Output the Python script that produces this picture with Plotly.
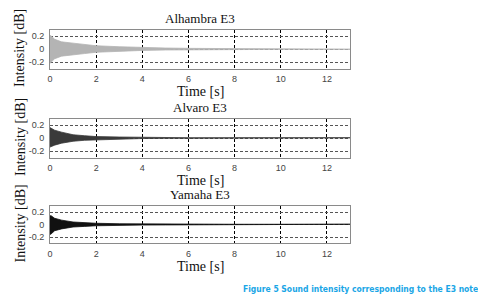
import plotly.graph_objects as go

# ---- data (envelopes) ----
t_env = [0, 0.05, 0.2, 0.5, 1.0, 1.5, 2.0, 3.0, 4.0, 5.0, 6.0, 8.0, 10.0, 13.0]

alhambra_upper = [0.21, 0.20, 0.15, 0.11, 0.09, 0.07, 0.05, 0.035, 0.022, 0.015, 0.01, 0.006, 0.005, 0.004]
alhambra_lower = [-0.22, -0.21, -0.15, -0.11, -0.09, -0.07, -0.05, -0.035, -0.022, -0.015, -0.01, -0.006, -0.005, -0.004]

alvaro_upper = [0.16, 0.15, 0.12, 0.09, 0.05, 0.035, 0.022, 0.015, 0.008, 0.005, 0.004, 0.004, 0.004, 0.004]
alvaro_lower = [-0.14, -0.14, -0.11, -0.08, -0.05, -0.035, -0.022, -0.015, -0.008, -0.005, -0.004, -0.004, -0.004, -0.004]

yamaha_upper = [0.14, 0.14, 0.10, 0.07, 0.04, 0.03, 0.02, 0.012, 0.009, 0.007, 0.004, 0.004, 0.004, 0.004]
yamaha_lower = [-0.16, -0.15, -0.10, -0.07, -0.04, -0.03, -0.02, -0.012, -0.009, -0.007, -0.004, -0.004, -0.004, -0.004]

titles = ["Alhambra E3", "Alvaro E3", "Yamaha E3"]
x_ticks = [0, 2, 4, 6, 8, 10, 12]
y_ticks = [-0.2, 0, 0.2]
y_tick_labels = ["-0.2", "0", "0.2"]
caption = "Figure 5 Sound intensity corresponding to the E3 note"

series = [(alhambra_upper, alhambra_lower, "#b4b4b4"),
          (alvaro_upper, alvaro_lower, "#3a3a3a"),
          (yamaha_upper, yamaha_lower, "#111111")]

OFF = 8  # page body margin offset
W, H = 486 - OFF, 303 - OFF
# panel pixel boxes (top, bottom) in window pixels
boxes = [(29.5, 68.5), (118.5, 157.5), (205.75, 243.25)]
x_left, x_right = 50, 350


def px(x):
    return (x - OFF) / W


def py(y):
    return 1 - (y - OFF) / H


fig = go.Figure()
serif = "Liberation Serif, Times New Roman, serif"
sans = "Liberation Sans, Arial, sans-serif"

for i, (up, lo, col) in enumerate(series):
    n = i + 1
    sfx = str(n) if n > 1 else ""
    xs = t_env + t_env[::-1]
    ys = up + lo[::-1]
    fig.add_trace(go.Scatter(x=xs, y=ys, fill="toself", fillcolor=col, mode="lines",
                             line=dict(color=col, width=0.8), hoverinfo="skip",
                             showlegend=False, xaxis="x" + sfx, yaxis="y" + sfx))
    top, bot = boxes[i]
    xa = dict(domain=[px(x_left), px(x_right)], range=[0, 13], tickvals=x_ticks,
              showgrid=True, gridcolor="#000000", griddash="3px,2px", gridwidth=1,
              zeroline=False, showline=True, linecolor="#8a8a8a", linewidth=1, mirror=True,
              ticks="", ticklabelstandoff=2, automargin=False,
              tickfont=dict(family=sans, size=9, color="#444"), anchor="y" + sfx,
              fixedrange=True)
    ya = dict(domain=[py(bot), py(top)], range=[-0.3, 0.3], tickvals=y_ticks,
              ticktext=y_tick_labels, showgrid=True, gridcolor="#555555", griddash="3px,2px",
              gridwidth=1, zeroline=False, showline=True, linecolor="#8a8a8a", linewidth=1,
              mirror=True, ticks="", ticklabelstandoff=3, automargin=False,
              tickfont=dict(family=sans, size=9, color="#444"), anchor="x" + sfx,
              fixedrange=True)
    fig.update_layout(**{"xaxis" + sfx: xa, "yaxis" + sfx: ya})

    cx = px((x_left + x_right) / 2)
    # panel title
    fig.add_annotation(text=titles[i], x=cx, y=py(top - 11), xref="paper", yref="paper",
                       showarrow=False, font=dict(family=serif, size=13, color="#111"),
                       xanchor="center", yanchor="middle")
    # x axis title
    fig.add_annotation(text="Time [s]", x=cx, y=py(bot + 23), xref="paper", yref="paper",
                       showarrow=False, font=dict(family=serif, size=14, color="#111"),
                       xanchor="center", yanchor="middle")
    # y axis title
    fig.add_annotation(text="Intensity [dB]", x=px(20), y=py((top + bot) / 2 - 1),
                       xref="paper", yref="paper", showarrow=False, textangle=-90,
                       font=dict(family=serif, size=14, color="#111"),
                       xanchor="center", yanchor="middle")

fig.add_annotation(text="<b>" + caption + "</b>", x=px(480), y=py(289), xref="paper", yref="paper",
                   showarrow=False, font=dict(family="DejaVu Sans Condensed, Liberation Sans Narrow, sans-serif",
                                              size=8.5, color="#1aa6e6"),
                   xanchor="right", yanchor="middle")

fig.update_layout(width=W, height=H, margin=dict(l=0, r=0, t=0, b=0, autoexpand=False),
                  paper_bgcolor="white", plot_bgcolor="white", showlegend=False)

fig.write_html("out.html", config={"displayModeBar": False})
